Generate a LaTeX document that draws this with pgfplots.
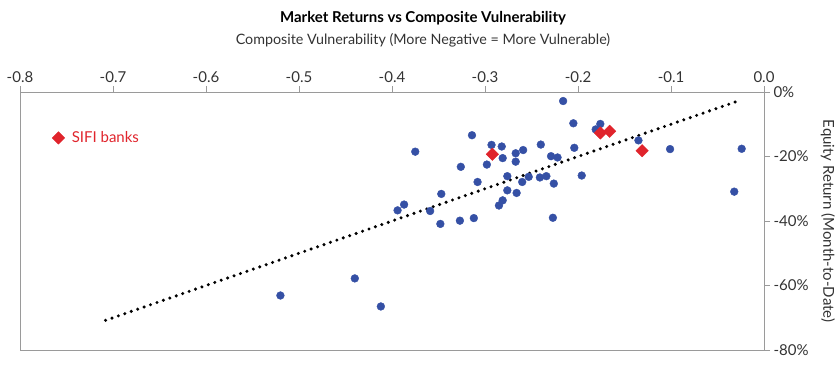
\documentclass[border=0pt]{standalone}
\usepackage{pgfplots}
\pgfplotsset{compat=1.18}
\usepackage{fontspec}
\setmainfont{Lato}
\definecolor{ptblue}{HTML}{3550A5}
\definecolor{ptred}{HTML}{E0242C}
\definecolor{axgray}{HTML}{9A9A9A}
\definecolor{txt}{HTML}{333333}
\begin{document}
\begin{tikzpicture}
\path[use as bounding box] (0,0) rectangle (840bp,369bp);
\begin{axis}[
  at={(20bp,19bp)}, anchor=south west,
  scale only axis, width=744bp, height=258bp,
  xmin=-0.8, xmax=0, ymin=-80, ymax=0,
  xtick={-0.8,-0.7,...,0.01}, ytick={-80,-60,-40,-20,0},
  xtick pos=top, ytick pos=right,
  xticklabel pos=top, yticklabel pos=right,
  tick align=outside, major tick length=6bp,
  axis line style={axgray, line width=0.8bp},
  tick style={axgray, line width=0.8bp},
  /pgf/number format/assume math mode=true,
  xticklabel style={/pgf/number format/.cd, fixed, fixed zerofill, precision=1, /tikz/.cd, font=\fontsize{15bp}{17bp}\selectfont, text=txt},
  yticklabel={\pgfmathprintnumber{\tick}\%},
  yticklabel style={font=\fontsize{15bp}{17bp}\selectfont, text=txt},
  legend style={draw=none, fill=none, at={(rel axis cs:0.039,0.822)}, anchor=west, font=\fontsize{15bp}{17bp}\selectfont, text=ptred},
  legend image code/.code={\path[draw=none, fill=none] (0cm,0cm) (0.55cm,0cm); \draw[#1] plot coordinates {(0.15cm,0cm)};},
  clip=false,
]
\addplot[only marks, mark=*, mark size=3.9bp, ptblue, forget plot] coordinates {
(-0.216,-2.8) (-0.205,-9.7) (-0.176,-9.9) (-0.181,-11.6) (-0.135,-15.0)
(-0.101,-17.7) (-0.024,-17.6) (-0.032,-30.9) (-0.314,-13.4) (-0.375,-18.5)
(-0.293,-16.4) (-0.282,-16.9) (-0.281,-20.5) (-0.267,-19.0) (-0.259,-18.0)
(-0.267,-21.6) (-0.298,-22.5) (-0.240,-16.3) (-0.229,-19.9) (-0.222,-20.3)
(-0.204,-17.3) (-0.326,-23.2) (-0.196,-25.9) (-0.276,-26.1) (-0.253,-26.3)
(-0.241,-26.5) (-0.234,-26.1) (-0.308,-27.9) (-0.260,-27.9) (-0.226,-28.4)
(-0.276,-30.5) (-0.266,-31.3) (-0.347,-31.6) (-0.281,-33.6) (-0.285,-35.2)
(-0.387,-34.9) (-0.359,-36.9) (-0.394,-36.7) (-0.348,-40.9) (-0.327,-39.9)
(-0.312,-39.1) (-0.227,-39.0) (-0.520,-63.1) (-0.440,-57.8) (-0.412,-66.5)
};
\addplot[black, line width=3.4bp, dash pattern=on 0bp off 6.8bp, line cap=round, forget plot] coordinates {
(-0.708,-70.8) (-0.025,-2.5)
};
\addplot[only marks, mark=square*, mark size=4.4bp, mark options={rotate=45}, ptred] coordinates {
(-0.292,-19.3) (-0.176,-12.7) (-0.166,-12.2) (-0.131,-18.2)
};
\addlegendentry{SIFI banks}
\end{axis}
\node[font=\bfseries\fontsize{15bp}{17bp}\selectfont, text=black] at (423bp,351bp) {Market Returns vs Composite Vulnerability};
\node[font=\fontsize{14.3bp}{17bp}\selectfont, text=txt] at (423bp,329bp) {Composite Vulnerability (More Negative = More Vulnerable)};
\node[font=\fontsize{15bp}{17bp}\selectfont, text=txt, rotate=-90] at (828bp,148bp) {Equity Return (Month-to-Date)};
\end{tikzpicture}
\end{document}
